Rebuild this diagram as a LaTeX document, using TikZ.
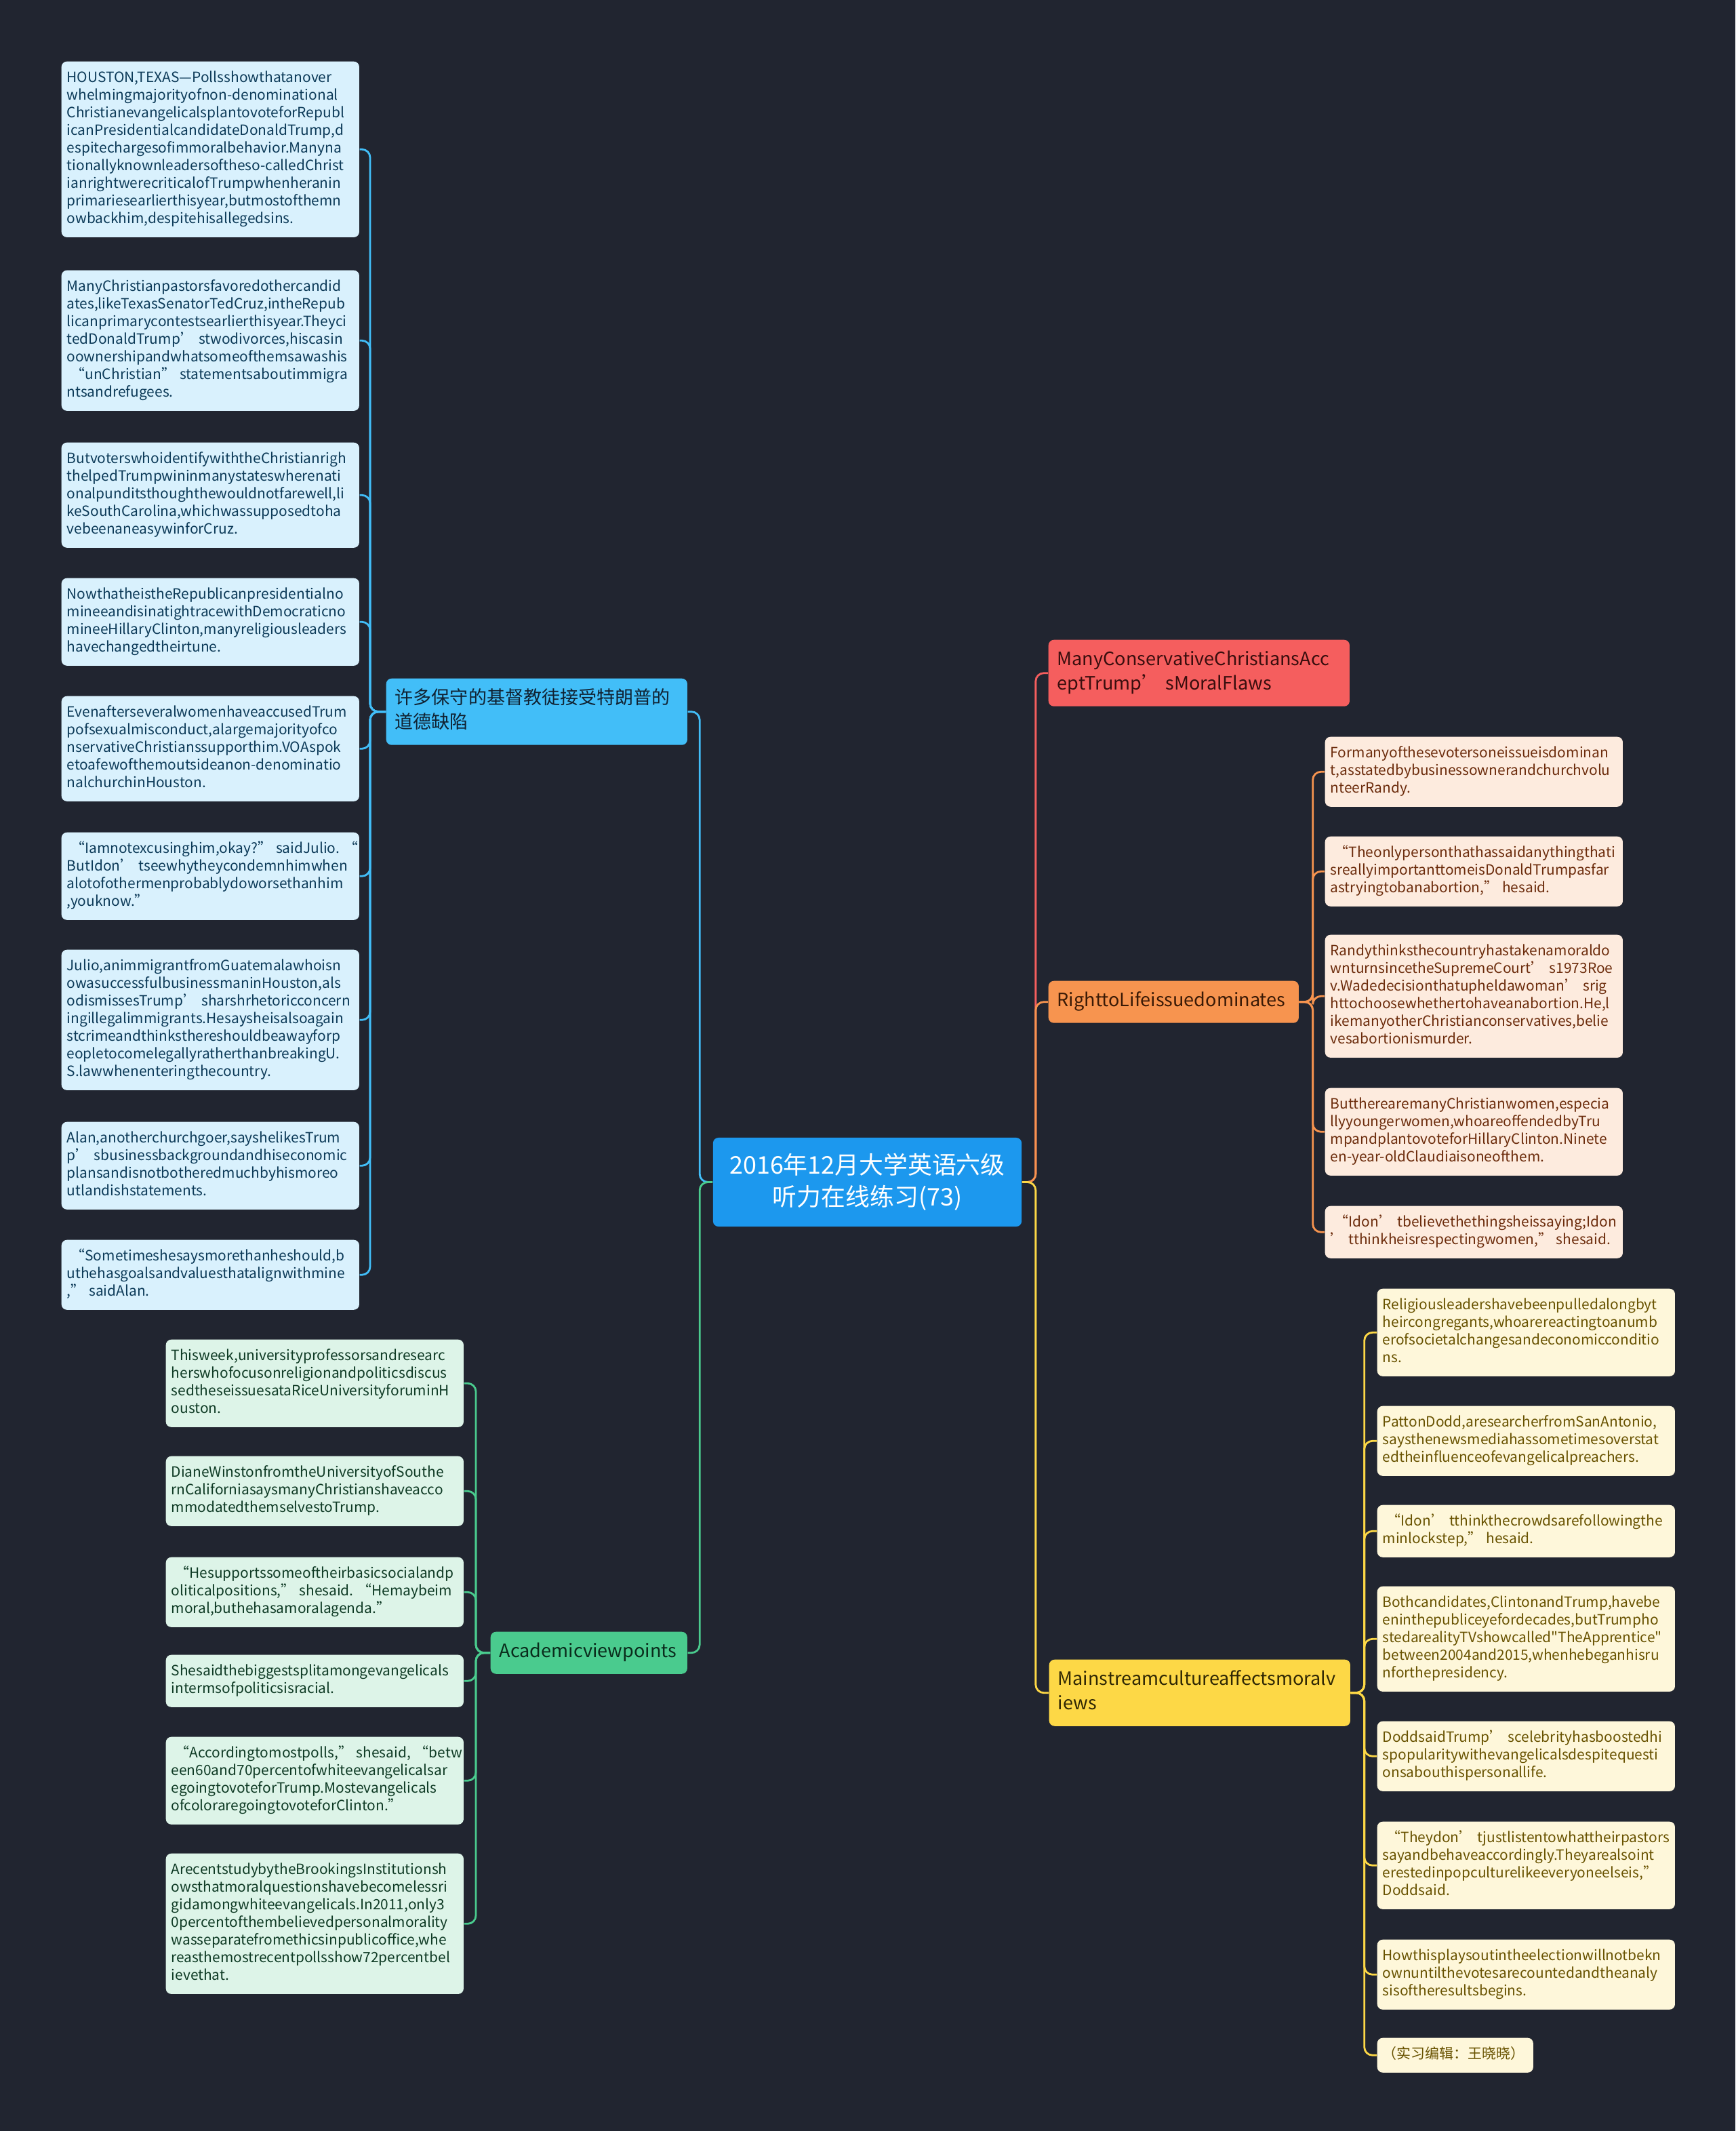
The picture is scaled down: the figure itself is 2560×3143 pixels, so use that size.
\documentclass[tikz,border=0pt]{standalone}
\usepackage{fontspec}
\setmainfont{Noto Sans CJK SC}
\definecolor{bgc}{RGB}{33,37,48}
\definecolor{rootc}{RGB}{28,152,238}
\definecolor{bluec}{RGB}{66,190,248}
\definecolor{redc}{RGB}{245,94,94}
\definecolor{orgc}{RGB}{247,148,79}
\definecolor{yelc}{RGB}{253,216,70}
\definecolor{grnc}{RGB}{74,203,142}
\definecolor{bluefill}{RGB}{217,241,253}
\definecolor{bluetxt}{RGB}{12,58,88}
\definecolor{grnfill}{RGB}{221,244,232}
\definecolor{grntxt}{RGB}{14,58,36}
\definecolor{orgfill}{RGB}{253,235,222}
\definecolor{orgtxt}{RGB}{108,44,12}
\definecolor{yelfill}{RGB}{254,247,218}
\definecolor{yeltxt}{RGB}{104,82,0}
\newcommand\leaffont{\fontsize{5.95pt}{7.4pt}\selectfont\hyphenpenalty=10000\exhyphenpenalty=10000}
\newcommand\hubfont{\fontsize{7.7pt}{10.24pt}\selectfont}
\newcommand\rootfont{\fontsize{10.2pt}{13.4pt}\selectfont}
% full-width quote marks
\newcommand\fwlq{\leavevmode\kern.28em“}
\newcommand\fwrq{”\kern.28em}
\newcommand\fwap{’\kern.3em}
\tikzset{wire/.style={line width=0.8pt, rounded corners=1.2mm},
  leaf/.style={anchor=north west, rounded corners=0.8mm, inner xsep=0.8mm, inner ysep=1.25mm,
    text width=42.3mm, align=left, font=\leaffont,
    execute at begin node=\strut, execute at end node=\strut},
  hub/.style={anchor=north west, rounded corners=0.8mm, inner xsep=1.3mm, inner ysep=1.3mm,
    text width=41.8mm, align=left, font=\hubfont,
    execute at begin node=\strut, execute at end node=\strut},
  bleaf/.style={leaf, fill=bluefill, text=bluetxt},
  gleaf/.style={leaf, fill=grnfill, text=grntxt},
  oleaf/.style={leaf, fill=orgfill, text=orgtxt},
  yleaf/.style={leaf, fill=yelfill, text=yeltxt}}

\begin{document}
\begin{tikzpicture}[x=0.01cm, y=-0.01cm]
  \fill[bgc] (0,0) rectangle (2560,3143);
  \useasboundingbox (0,0) rectangle (2560,3143);

  \node[fill=rootc, text=white, rounded corners=0.8mm, minimum width=45.5mm, minimum height=13.1mm,
    align=center, font=\rootfont] (root) at (1279.5,1743.5) {2016年12月大学英语六级\\听力在线练习(73)};

  % main branches
  \node[hub, fill=bluec, text={rgb,255:red,16;green,34;blue,50}] (bh) at (569,1000) {许多保守的基督教徒接受特朗普的\\道德缺陷};
  \node[hub, fill=grnc, text={rgb,255:red,10;green,44;blue,28}, text width=26.4mm] (gh) at (723,2406) {Academicviewpoints};
  \node[hub, fill=redc, text={rgb,255:red,58;green,14;blue,14}] (rh) at (1546,943) {ManyConservativeChristiansAcc\\eptTrump’\kern.3em sMoralFlaws};
  \node[hub, fill=orgc, text={rgb,255:red,58;green,26;blue,6}, text width=34.3mm] (oh) at (1546,1446) {RighttoLifeissuedominates};
  \node[hub, fill=yelc, text={rgb,255:red,48;green,40;blue,4}] (yh) at (1547,2447) {Mainstreamcultureaffectsmoralv\\iews};

  % blue leaves
  \node[bleaf] (b1) at (90,90) {HOUSTON,TEXAS—Pollsshowthatanover\\whelmingmajorityofnon-denominational\\ChristianevangelicalsplantovoteforRepubl\\icanPresidentialcandidateDonaldTrump,d\\espitechargesofimmoralbehavior.Manyna\\tionallyknownleadersoftheso-calledChrist\\ianrightwerecriticalofTrumpwhenheranin\\primariesearlierthisyear,butmostofthemn\\owbackhim,despitehisallegedsins.};
  \node[bleaf] (b2) at (90,398) {ManyChristianpastorsfavoredothercandid\\ates,likeTexasSenatorTedCruz,intheRepub\\licanprimarycontestsearlierthisyear.Theyci\\tedDonaldTrump\fwap stwodivorces,hiscasin\\oownershipandwhatsomeofthemsawashis\\\fwlq unChristian\fwrq statementsaboutimmigra\\ntsandrefugees.};
  \node[bleaf] (b3) at (90,652) {ButvoterswhoidentifywiththeChristianrigh\\thelpedTrumpwininmanystateswherenati\\onalpunditsthoughthewouldnotfarewell,li\\keSouthCarolina,whichwassupposedtoha\\vebeenaneasywinforCruz.};
  \node[bleaf] (b4) at (90,852) {NowthatheistheRepublicanpresidentialno\\mineeandisinatightracewithDemocraticno\\mineeHillaryClinton,manyreligiousleaders\\havechangedtheirtune.};
  \node[bleaf] (b5) at (90,1026) {EvenafterseveralwomenhaveaccusedTrum\\pofsexualmisconduct,alargemajorityofco\\nservativeChristianssupporthim.VOAspok\\etoafewofthemoutsideanon-denominatio\\nalchurchinHouston.};
  \node[bleaf] (b6) at (90,1227) {\fwlq Iamnotexcusinghim,okay?\fwrq saidJulio.\fwlq\\ButIdon\fwap tseewhytheycondemnhimwhen\\alotofothermenprobablydoworsethanhim\\,youknow.”};
  \node[bleaf] (b7) at (90,1400) {Julio,animmigrantfromGuatemalawhoisn\\owasuccessfulbusinessmaninHouston,als\\odismissesTrump\fwap sharshrhetoricconcern\\ingillegalimmigrants.Hesaysheisalsoagain\\stcrimeandthinksthereshouldbeawayforp\\eopletocomelegallyratherthanbreakingU.\\S.lawwhenenteringthecountry.};
  \node[bleaf] (b8) at (90,1654) {Alan,anotherchurchgoer,sayshelikesTrum\\p\fwap sbusinessbackgroundandhiseconomic\\plansandisnotbotheredmuchbyhismoreo\\utlandishstatements.};
  \node[bleaf] (b9) at (90,1828) {\fwlq Sometimeshesaysmorethanheshould,b\\uthehasgoalsandvaluesthatalignwithmine\\,\fwrq saidAlan.};

  % green leaves
  \node[gleaf] (g1) at (244,1975) {Thisweek,universityprofessorsandresearc\\herswhofocusonreligionandpoliticsdiscus\\sedtheseissuesataRiceUniversityforuminH\\ouston.};
  \node[gleaf] (g2) at (244,2147) {DianeWinstonfromtheUniversityofSouthe\\rnCaliforniasaysmanyChristianshaveacco\\mmodatedthemselvestoTrump.};
  \node[gleaf] (g3) at (244,2296) {\fwlq Hesupportssomeoftheirbasicsocialandp\\oliticalpositions,\fwrq shesaid.\fwlq Hemaybeim\\moral,buthehasamoralagenda.”};
  \node[gleaf] (g4) at (244,2440) {Shesaidthebiggestsplitamongevangelicals\\intermsofpoliticsisracial.};
  \node[gleaf] (g5) at (244,2561) {\fwlq Accordingtomostpolls,\fwrq shesaid,\fwlq betw\\een60and70percentofwhiteevangelicalsar\\egoingtovoteforTrump.Mostevangelicals\\ofcoloraregoingtovoteforClinton.”};
  \node[gleaf] (g6) at (244,2733) {ArecentstudybytheBrookingsInstitutionsh\\owsthatmoralquestionshavebecomelessri\\gidamongwhiteevangelicals.In2011,only3\\0percentofthembelievedpersonalmorality\\wasseparatefromethicsinpublicoffice,whe\\reasthemostrecentpollsshow72percentbel\\ievethat.};

  % orange leaves
  \node[oleaf] (o1) at (1954,1086) {Formanyofthesevotersoneissueisdominan\\t,asstatedbybusinessownerandchurchvolu\\nteerRandy.};
  \node[oleaf] (o2) at (1954,1233) {\fwlq Theonlypersonthathassaidanythingthati\\sreallyimportanttomeisDonaldTrumpasfar\\astryingtobanabortion,\fwrq hesaid.};
  \node[oleaf] (o3) at (1954,1378) {Randythinksthecountryhastakenamoraldo\\wnturnsincetheSupremeCourt\fwap s1973Roe\\v.Wadedecisionthatupheldawoman\fwap srig\\httochoosewhethertohaveanabortion.He,l\\ikemanyotherChristianconservatives,belie\\vesabortionismurder.};
  \node[oleaf] (o4) at (1954,1604) {ButtherearemanyChristianwomen,especia\\llyyoungerwomen,whoareoffendedbyTru\\mpandplantovoteforHillaryClinton.Ninete\\en-year-oldClaudiaisoneofthem.};
  \node[oleaf] (o5) at (1954,1778) {\fwlq Idon\fwap tbelievethethingsheissaying;Idon\\\fwap tthinkheisrespectingwomen,\fwrq shesaid.};

  % yellow leaves
  \node[yleaf] (y1) at (2031,1900) {Religiousleadershavebeenpulledalongbyt\\heircongregants,whoarereactingtoanumb\\erofsocietalchangesandeconomicconditio\\ns.};
  \node[yleaf] (y2) at (2031,2073) {PattonDodd,aresearcherfromSanAntonio,\\saysthenewsmediahassometimesoverstat\\edtheinfluenceofevangelicalpreachers.};
  \node[yleaf] (y3) at (2031,2219) {\fwlq Idon\fwap tthinkthecrowdsarefollowingthe\\minlockstep,\fwrq hesaid.};
  \node[yleaf] (y4) at (2031,2339) {Bothcandidates,ClintonandTrump,havebe\\eninthepubliceyefordecades,butTrumpho\\stedarealityTVshowcalled\textquotedbl TheApprentice\textquotedbl\\between2004and2015,whenhebeganhisru\\nforthepresidency.};
  \node[yleaf] (y5) at (2031,2538) {DoddsaidTrump\fwap scelebrityhasboostedhi\\spopularitywithevangelicalsdespitequesti\\onsabouthispersonallife.};
  \node[yleaf] (y6) at (2031,2686) {\fwlq Theydon\fwap tjustlistentowhattheirpastors\\sayandbehaveaccordingly.Theyarealsoint\\erestedinpopculturelikeeveryoneelseis,”\\Doddsaid.};
  \node[yleaf] (y7) at (2031,2860) {Howthisplaysoutintheelectionwillnotbekn\\ownuntilthevotesarecountedandtheanaly\\sisoftheresultsbegins.};
  \node[yleaf, text width=21.4mm] (y8) at (2031,3005) {（实习编辑：王晓晓）};

  % connectors
  \coordinate (lt) at ([xshift=-1.9mm]root.west);
  \coordinate (rt) at ([xshift=2mm]root.east);
  \coordinate (bb) at ([xshift=-2.3mm]bh.west);
  \coordinate (gb) at ([xshift=-2.1mm]gh.west);
  \coordinate (ob) at ([xshift=2mm]oh.east);
  \coordinate (yb) at ([xshift=2mm]yh.east);
  \draw[wire, bluec] (root.west) -- (lt) |- (bh.east);
  \draw[wire, grnc] (root.west) -- (lt) |- (gh.east);
  \draw[wire, redc] (root.east) -- (rt) |- (rh.west);
  \draw[wire, orgc] (root.east) -- (rt) |- (oh.west);
  \draw[wire, yelc] (root.east) -- (rt) |- (yh.west);
  \foreach \i in {1,...,9} \draw[wire, bluec] (bh.west) -- (bb) |- (b\i.east);
  \foreach \i in {1,...,6} \draw[wire, grnc] (gh.west) -- (gb) |- (g\i.east);
  \foreach \i in {1,...,5} \draw[wire, orgc] (oh.east) -- (ob) |- (o\i.west);
  \foreach \i in {1,...,8} \draw[wire, yelc] (yh.east) -- (yb) |- (y\i.west);
\end{tikzpicture}
\end{document}
